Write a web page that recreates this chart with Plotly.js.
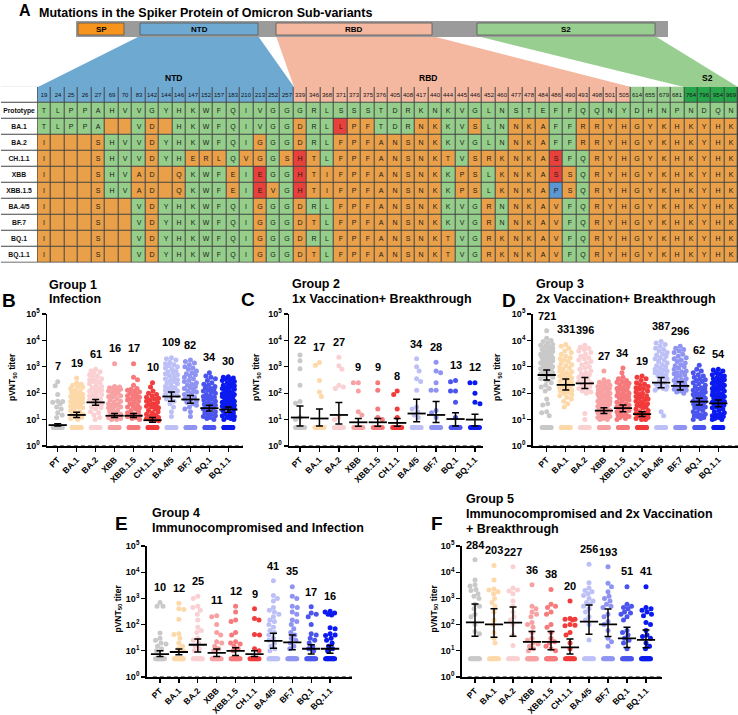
<!DOCTYPE html>
<html><head><meta charset="utf-8">
<script src="https://cdn.plot.ly/plotly-3.0.1.min.js"></script>
<style>html,body{margin:0;padding:0;background:#fff}#chart{width:738px;height:715px}</style>
</head><body><div id="chart"></div>
<script>
// ================= DATA =================
const variants = ["PT","BA.1","BA.2","XBB","XBB.1.5","CH.1.1","BA.4/5","BF.7","BQ.1","BQ.1.1"];

// Panel A: spike mutation table
const mutPositions = [19,24,25,26,27,69,70,83,142,144,146,147,152,157,183,210,213,252,257,
  339,346,368,371,373,375,376,405,408,417,440,444,445,446,452,460,477,478,484,486,490,493,498,501,505,
  614,655,679,681,764,796,954,969];
const tableRows = ["Prototype","BA.1","BA.2","CH.1.1","XBB","XBB.1.5","BA.4/5","BF.7","BQ.1","BQ.1.1"];
const rowSeqs = [
  "TLPPAHVVGYHKWFQIVGG" + "GRLSSSTDRKNKVGLNSTEFFQQNY" + "DHNPNDQN",
  "TLPPA--VD-HKWFQIVGG" + "DRLLPFTDRNKKVSLNNKAFFRRYH" + "GYKHKYHK",
  "I---SHVVDYHKWFQIGGG" + "DRLFPFANSNKKVGLNNKAFFRRYH" + "GYKHKYHK",
  "I---SHVVDYHERLQVGGS" + "HTLFPFANSNKTVSRKNKASFQRYH" + "GYKHKYHK",
  "I---SHVAD-QKWFEIEGG" + "HTIFPFANSNKKPSLKNKASSQRYH" + "GYKHKYHK",
  "I---SHVAD-QKWFEIEVG" + "HTIFPFANSNKKPSLKNKAPSQRYH" + "GYKHKYHK",
  "I---S--VDYHKWFQIGGG" + "DRLFPFANSNKKVGRNNKAVFQRYH" + "GYKHKYHK",
  "I---S--VDYHKWFQIGGG" + "DTLFPFANSNKKVGRNNKAVFQRYH" + "GYKHKYHK",
  "I---S--VDYHKWFQIGGG" + "DRLFPFANSNKTVGRKNKAVFQRYH" + "GYKHKYHK",
  "I---S--VDYHKWFQIGGG" + "DTLFPFANSNKTVGRKNKAVFQRYH" + "GYKHKYHK"
];
const specialCells = [["BA.1",371,"red"],["CH.1.1",339,"red"],["CH.1.1",486,"red"],
  ["XBB",213,"red"],["XBB",339,"red"],["XBB",486,"red"],
  ["XBB.1.5",213,"red"],["XBB.1.5",339,"red"],["XBB.1.5",486,"blue"]];

// Neutralization titers (values above detection limit), counts below limit (plotted at 5)
const lodValue = 5, lodLine = 10;

// Group 1: Infection
const g1Titers = [
  [270,190,90,50,48,45,40,30,25,18,15,12],
  [380,250,220,200,180,170,150,130,120,110,100,90,85,80,75,70,65,60,55,50,48,45,42,40,38,35,32,30,28,25,22,20,18,16,15,14,13,12,11,10],
  [800,700,650,600,500,450,400,350,320,300,280,250,230,200,180,160,150,140,130,120,110,100,90,80,75,70,60,55,50,45,40,35,30,28,25,20,18,15,12,10],
  [1300,180,170,160,150,150,140,130,120,110,100,90,80,75,70,60,55,50,45,40,38,35,32,30,28,25,22,20,18,16,15,14,13,12,11,10,10],
  [1300,400,320,200,150,140,130,120,110,100,90,85,80,70,65,60,55,50,45,40,35,32,30,28,25,22,20,18,16,15,14,13,12,11,10],
  [250,170,120,100,90,80,70,65,60,55,50,45,40,38,35,32,30,28,25,22,20,18,16,15,14,13,12,11,10,10,9],
  [2200,2000,1800,1500,1300,1200,1100,1000,900,800,700,650,600,550,500,450,400,350,320,300,280,250,230,200,180,160,150,140,130,120,110,100,90,80,70,60,50,40,30,20,13],
  [1800,1600,1400,1200,1000,900,800,700,600,550,500,450,400,350,300,280,250,220,200,180,160,150,140,120,110,100,90,80,70,60,55,50,45,40,35,30,25,20,13],
  [600,450,400,350,300,250,220,200,180,160,150,140,130,120,110,100,90,80,75,70,65,60,55,50,45,40,38,35,32,30,28,25,22,20,18,16,15,14,13,12,11,10],
  [420,400,380,350,320,300,280,250,230,200,190,180,170,160,150,140,130,120,110,100,95,90,85,80,75,70,65,60,55,50,48,45,42,40,38,35,32,30,28,25,22,20,18,16,15,14,13,12,11,10,10]
];
const g1BelowLod = [30,25,15,25,25,30,15,15,25,30];
const g1Gmt = [6.2,15,45,14,14,9.5,75,58,27,24];
const g1Lo  = [5.7,12,35,12,12,8,50,42,21,19];
const g1Hi  = [6.9,19,58,17,17,12,112,82,35,30];
const g1Labels = [7,19,61,16,17,10,109,82,34,30];

// Group 2: 1x Vaccination + Breakthrough
const g2Titers = [
  [2800,1700,850,200,48,42,12,10],
  [1450,1150,300,110,75],
  [2300,1100,800,200,170,150,12,10],
  [250,250,120,20,15],
  [250,130,25,12,10],
  [120,90,25,12],
  [2000,1000,700,350,280,130,30,25,20,15,12],
  [1500,700,600,250,130,130,22,18,12],
  [300,270,120,120,45,12],
  [250,250,100,45,40]
];
const g2BelowLod = [8,9,10,10,10,10,14,12,8,8];
const g2Gmt = [12,11,15,7.9,7.9,7.5,17,15,10.5,10];
const g2Lo  = [5.7,5.7,6.8,5.6,5.6,5.6,8.3,7.7,5.7,5.7];
const g2Hi  = [33,25,44,11,11,11,59,48,18,16];
const g2Labels = [22,17,27,9,9,8,34,28,13,12];

// Group 3: 2x Vaccination + Breakthrough
const g3Titers = [
  [23000,12000,10000,9000,8000,7000,6500,6000,5500,5000,4500,4200,4000,3800,3500,3200,3000,2800,2600,2500,2400,2200,2000,1900,1800,1700,1600,1500,1400,1300,1200,1100,1000,950,900,850,800,700,650,600,550,500,450,400,350,300,250,200,170,150,120,60,40,36,20,18,14],
  [7000,6000,5000,4000,3500,3000,2500,2200,2000,1800,1600,1400,1200,1100,1000,900,800,700,650,600,550,500,450,400,380,350,320,300,280,250,230,200,180,160,150,140,130,120,110,100,90,80,70,60,50,40,30],
  [6500,5500,5000,4500,4000,3500,3000,2500,2200,2000,1800,1600,1400,1200,1000,900,800,700,600,550,500,450,400,350,300,280,250,220,200,180,160,150,140,120,110,100,17,10],
  [700,320,280,260,240,220,200,180,170,160,150,140,130,120,110,100,95,90,85,80,75,70,65,60,55,50,48,45,42,40,38,35,32,30,28,26,24,22,20,19,18,17,16,15,14,13,12,11,10,10],
  [900,600,400,350,300,280,260,240,220,200,180,160,150,140,130,120,110,100,90,85,80,75,70,65,60,55,50,45,40,38,35,32,30,28,26,24,22,20,18,16,15,14,13,12,11,10],
  [450,400,350,300,250,220,200,180,160,150,140,120,110,100,90,80,75,70,65,60,55,50,45,40,38,35,32,30,28,25,22,20,18,17,16,15,14,13,12,11,10,10],
  [9000,8000,7000,6000,5000,4500,4000,3500,3000,2800,2500,2200,2000,1800,1600,1400,1200,1100,1000,900,800,750,700,650,600,550,500,450,400,350,300,250,220,200,180,160,150,140,130,20,14],
  [6000,5000,4500,4000,3500,3000,2500,2200,2000,1800,1600,1400,1200,1100,1000,900,800,700,650,600,550,500,450,400,350,320,300,280,250,220,200,180,160,150,140,130,120,110,100],
  [1150,800,700,600,500,450,400,350,320,300,280,250,230,200,180,160,150,140,130,120,110,100,95,90,85,80,75,70,65,60,55,50,48,45,42,40,38,35,32,30,28,25,22,20,18,16,15,14,13,12,11,10],
  [800,750,700,600,550,500,450,400,380,350,320,300,280,260,240,220,200,190,180,170,160,150,140,130,120,110,100,95,90,85,80,75,70,65,60,55,50,48,45,42,40,38,35,32,30,28,25,22,20,18,16,15,14,13,12,11,10,10]
];
const g3BelowLod = [15,12,10,30,28,35,12,12,25,25];
const g3Gmt = [490,205,236,22,27,16,250,188,48,41];
const g3Lo  = [316,132,152,17,20,13,162,132,36,31];
const g3Hi  = [760,345,390,28,36,20,390,270,64,55];
const g3Labels = [721,331,396,27,34,19,387,296,62,54];

// Group 4: Immunocompromised and Infection
const g4Titers = [
  [700,500,500,48,30,25,20,18,15,12,10],
  [650,400,380,160,45,42,30,20,15,12,10],
  [1200,1000,500,450,350,250,150,80,60,50,30,25,20,15,12,10],
  [220,200,100,50,40,22,20,15,12,10],
  [500,300,150,130,50,40,22,20,18,15,12,10],
  [400,170,150,42,40,12,10],
  [4700,1300,1000,800,450,350,300,250,200,150,130,100,80,60,50,40,30,25,20,15,12,10],
  [2800,1200,1000,500,450,300,250,150,130,100,70,50,40,30,25,20,15,12],
  [480,280,250,200,100,45,40,30,25,20,15,12,10],
  [320,300,280,250,230,75,70,45,40,38,30,25,20,15,12,10]
];
const g4BelowLod = [14,14,10,12,12,10,14,12,12,12];
const g4Gmt = [7.5,9,17,8.3,10,7.5,24,21,12,12];
const g4Lo  = [6,7,9,6,6.6,6,12.4,11,7.5,8];
const g4Hi  = [10,11.6,28,11.6,13,10,47,40,17,16];
const g4Labels = [10,12,25,11,12,9,41,35,17,16];

// Group 5: Immunocompromised and 2x Vaccination + Breakthrough
const g5Titers = [
  [30000,5000,3300,3000,2200,2000,1500,1200,1000,600,500,400,250,200,100,55,45],
  [18000,5000,2300,2100,1800,1500,1000,700,500,300,150,100,50,30,20],
  [16000,2500,2100,1900,1500,800,500,300,200,150,100,40,16],
  [3300,500,400,300,250,200,120,100,80,50,30,25,20,18,15,12,10],
  [2200,600,500,450,300,250,100,80,50,30,22,20,15,12,10],
  [800,170,160,160,150,100,95,90,50,40,20,12],
  [20000,4000,2500,2000,1800,1500,1300,1000,800,700,600,500,400,300,200,150,100,26],
  [16000,3800,2800,1800,1200,1000,800,600,500,450,250,200,130,100,60,30,22,15],
  [2800,600,500,450,400,300,280,250,200,150,60,50,40,30,25,20,12],
  [2800,450,400,350,300,250,220,120,100,60,40,35,30,20,15,12]
];
const g5BelowLod = [10,9,9,18,18,10,9,10,14,14];
const g5Gmt = [122,102,118,22,22,13.5,130,102,30,26];
const g5Lo  = [36,33,36,11.4,11,7.5,43,35,13.5,13];
const g5Hi  = [610,400,470,54,54,28,560,395,79,62];
const g5Labels = [284,203,227,36,38,20,256,193,51,41];

// ================= STYLE / LAYOUT =================
const FONT = "Liberation Sans, Arial, Helvetica, sans-serif";
const W = 738, H = 715;
const px = x => x / W, py = y => 1 - y / H;
const variantColors = ["#C9C9C9","#FDD8A8","#FAD0D2","#F8A1A3","#F67A7C","#F23B3B","#BCC0F6","#8F94F2","#4B55EE","#0B1AF0"];
const cellPalette = ["#ffffff","#95CE8B","#E9A049","#E8413B","#5A97D3","#6EA9D2","#F4B8A1","#98CF90","#27A54B","#444444"];
const csc = [];
cellPalette.forEach((c,k)=>{ csc.push([k/10,c]); csc.push([(k+1)/10,c]); });
const headerCode = p => p < 300 ? 5 : p < 600 ? 6 : p < 700 ? 7 : 8;

const traces = [];
const nCols = mutPositions.length;
const xEdges = Array.from({length: nCols + 1}, (_, i) => i);
const hmBase = {type:'heatmap', xaxis:'x', yaxis:'y', colorscale:csc, zmin:-0.5, zmax:9.5,
  showscale:false, hoverinfo:'skip', xgap:1, ygap:1};
// border background
traces.push(Object.assign({}, hmBase, {x:[-2.72, nCols], y:[0, 11], z:[[9]], xgap:0, ygap:0}));
// row label column
traces.push(Object.assign({}, hmBase, {x:[-2.72, 0], y:Array.from({length:12},(_,i)=>i),
  z:Array.from({length:11},()=>[0]), text:[[" "]].concat(tableRows.map(r=>[r])),
  texttemplate:"%{text}", textfont:{family:FONT, size:6.8, color:'#111', weight:700}}));
// header row
traces.push(Object.assign({}, hmBase, {x:xEdges, y:[0,1], z:[mutPositions.map(headerCode)],
  text:[mutPositions.map(String)], texttemplate:"%{text}", textfont:{family:FONT, size:6, color:'#111'}}));
// body
const proto = rowSeqs[0];
const bodyZ = [], bodyT = [];
rowSeqs.forEach((seq, r) => {
  const zr = [], tr = [];
  for (let c = 0; c < nCols; c++) {
    const ch = seq[c];
    let code = (ch === proto[c]) ? 1 : 2;
    specialCells.forEach(s => { if (s[0] === tableRows[r] && s[1] === mutPositions[c]) code = s[2] === 'red' ? 3 : 4; });
    zr.push(code); tr.push(ch === '-' ? ' ' : ch);
  }
  bodyZ.push(zr); bodyT.push(tr);
});
traces.push(Object.assign({}, hmBase, {x:xEdges, y:Array.from({length:11},(_,i)=>i+1), z:bodyZ,
  text:bodyT, texttemplate:"%{text}", textfont:{family:FONT, size:7, color:'#1a1a1a'}}));

const layout = {
  width:W, height:H, margin:{l:0,r:0,t:0,b:0}, paper_bgcolor:'#fff', plot_bgcolor:'rgba(0,0,0,0)',
  showlegend:false, font:{family:FONT, color:'#000'},
  xaxis:{domain:[px(1),1], range:[-2.72, nCols], visible:false, fixedrange:true},
  yaxis:{domain:[py(262.7), py(86.7)], range:[11, 0], visible:false, fixedrange:true},
  shapes:[], annotations:[]
};

// domain bar + trapezoids
const path = pts => 'M' + pts.map(p => px(p[0]) + ',' + py(p[1])).join(' L') + ' Z';
layout.shapes.push(
  {type:'path', xref:'paper', yref:'paper', path:path([[140,36],[258,36],[294,87],[38,87]]), fillcolor:'#6EA9D2', line:{width:0}},
  {type:'path', xref:'paper', yref:'paper', path:path([[276,36],[432,36],[631,87],[294,87]]), fillcolor:'#F4B8A1', line:{width:0}},
  {type:'path', xref:'paper', yref:'paper', path:path([[477,36],[655,36],[738,87],[684,87]]), fillcolor:'#98CF90', line:{width:0}},
  {type:'rect', xref:'paper', yref:'paper', x0:px(76), x1:px(668), y0:py(37), y1:py(21), fillcolor:'#9B9B9B', line:{width:0}},
  {type:'rect', xref:'paper', yref:'paper', x0:px(78), x1:px(124), y0:py(35), y1:py(23), fillcolor:'#F7941D', line:{width:0.8,color:'#555'}},
  {type:'rect', xref:'paper', yref:'paper', x0:px(140), x1:px(258), y0:py(35), y1:py(23), fillcolor:'#6EA9D2', line:{width:0.8,color:'#555'}},
  {type:'rect', xref:'paper', yref:'paper', x0:px(276), x1:px(432), y0:py(35), y1:py(23), fillcolor:'#F4B8A1', line:{width:0.8,color:'#555'}},
  {type:'rect', xref:'paper', yref:'paper', x0:px(477), x1:px(655), y0:py(35), y1:py(23), fillcolor:'#98CF90', line:{width:0.8,color:'#555'}}
);
const txt = (x, y, text, size, opts) => Object.assign({xref:'paper', yref:'paper', x:px(x), y:py(y), text,
  showarrow:false, xanchor:'center', yanchor:'middle', font:{family:FONT, size, color:'#000', weight:700}}, opts || {});
layout.annotations.push(
  txt(25, 11, 'A', 16),
  txt(37, 13, 'Mutations in the Spiker Protein of Omicron Sub-variants', 12.5, {xanchor:'left'}),
  txt(101, 29, 'SP', 8), txt(199, 29, 'NTD', 8), txt(354, 29, 'RBD', 8), txt(566, 29, 'S2', 8),
  txt(173, 78, 'NTD', 8.5), txt(428, 78, 'RBD', 8.5), txt(707, 78, 'S2', 8.5)
);

// panel titles
layout.annotations.push(
  txt(9, 300, 'B', 19), txt(47, 285, 'Group 1', 12.5, {xanchor:'left'}), txt(47, 299, 'Infection', 12.5, {xanchor:'left'}),
  txt(248, 299, 'C', 19), txt(290, 284, 'Group 2', 12.5, {xanchor:'left'}), txt(290, 299, '1x Vaccination+ Breakthrough', 12.5, {xanchor:'left'}),
  txt(509, 300, 'D', 19), txt(534, 284, 'Group 3', 12.5, {xanchor:'left'}), txt(534, 299, '2x Vaccination+ Breakthrough', 12.5, {xanchor:'left'}),
  txt(121, 523, 'E', 19), txt(150, 513, 'Group 4', 12.5, {xanchor:'left'}), txt(150, 528, 'Immunocompromised and Infection', 12.5, {xanchor:'left'}),
  txt(437, 523, 'F', 19), txt(464, 499, 'Group 5', 12.5, {xanchor:'left'}), txt(464, 514, 'Immunocompromised and 2x Vaccination', 12.5, {xanchor:'left'}), txt(464, 529, '+ Breakthrough', 12.5, {xanchor:'left'})
);

// beeswarm offsets (px)
function swarm(vals, sy, maxHalf, d) {
  const placed = [], out = [];
  vals.forEach((v, idx) => {
    const y = Math.log10(v) * sy;
    let best = 0, bestScore = -1, done = false;
    for (let k = 0; k <= maxHalf * 2 && !done; k++) {
      const sgn = idx % 2 ? -1 : 1;
      const cands = k === 0 ? [0] : [sgn * k * 0.5, -sgn * k * 0.5];
      for (const off of cands) {
        let m = Infinity;
        for (const p of placed) { const dd = Math.hypot(p[0] - off, p[1] - y); if (dd < m) m = dd; }
        if (m >= d) { best = off; done = true; break; }
        if (m > bestScore) { bestScore = m; best = off; }
      }
    }
    placed.push([best, y]); out.push(best);
  });
  return out;
}

const panels = [
  {t:g1Titers, lod:g1BelowLod, gm:g1Gmt, lo:g1Lo, hi:g1Hi, lab:g1Labels, x0:47, x1:243, c0:57.7, s:18.96, top:314, bot:446, tx:13},
  {t:g2Titers, lod:g2BelowLod, gm:g2Gmt, lo:g2Lo, hi:g2Hi, lab:g2Labels, x0:289, x1:483, c0:300, s:19.44, top:314, bot:446, tx:257},
  {t:g3Titers, lod:g3BelowLod, gm:g3Gmt, lo:g3Lo, hi:g3Hi, lab:g3Labels, x0:532.7, x1:738, c0:546.7, s:19.07, top:314, bot:446, tx:498},
  {t:g4Titers, lod:g4BelowLod, gm:g4Gmt, lo:g4Lo, hi:g4Hi, lab:g4Labels, x0:146.7, x1:352, c0:160, s:18.9, top:546, bot:677, tx:118},
  {t:g5Titers, lod:g5BelowLod, gm:g5Gmt, lo:g5Lo, hi:g5Hi, lab:g5Labels, x0:461.7, x1:662, c0:475, s:19.0, top:546, bot:677, tx:434}
];

panels.forEach((P, k) => {
  const n = k + 2, xa = 'x' + n, ya = 'y' + n;
  const sy = (P.bot - P.top) / 5;
  const xs = [], ys = [], cs = [];
  P.t.forEach((arr, i) => {
    const nl = P.lod[i];
    for (let j = 0; j < nl; j++) {
      const off = nl > 1 ? -4.5 + 9 * j / (nl - 1) : 0;
      xs.push(i + off / P.s); ys.push(lodValue); cs.push(variantColors[i]);
    }
    const vals = arr.slice().sort((a, b) => b - a);
    const offs = swarm(vals, sy, 6, 4.7);
    vals.forEach((v, j) => { xs.push(i + offs[j] / P.s); ys.push(v); cs.push(variantColors[i]); });
    // count label above the highest point (converted to paper space so it is never clipped)
    const top = Math.max.apply(null, arr);
    const ly = P.bot - (Math.log10(top) + 0.58) * sy;
    layout.annotations.push(txt(P.c0 + i * P.s, ly, String(P.lab[i]), 11));
  });
  traces.push({type:'scatter', mode:'markers', x:xs, y:ys, xaxis:xa, yaxis:ya, hoverinfo:'skip', cliponaxis:false,
    marker:{size:5, color:cs, line:{width:0}}});
  traces.push({type:'scatter', mode:'markers', x:variants.map((_, i) => i), y:P.gm, xaxis:xa, yaxis:ya, hoverinfo:'skip',
    marker:{symbol:'line-ew', size:13, color:'#000', line:{width:1.8, color:'#000'}},
    error_y:{type:'data', symmetric:false, array:P.gm.map((g, i) => P.hi[i] - g), arrayminus:P.gm.map((g, i) => g - P.lo[i]),
      width:3.5, thickness:1.5, color:'#000'}});
  const r0 = (P.x0 - P.c0) / P.s, r1 = (P.x1 - P.c0) / P.s;
  layout['xaxis' + n] = {domain:[px(P.x0), px(P.x1)], range:[r0, r1], anchor:ya, tickmode:'array',
    tickvals:variants.map((_, i) => i), ticktext:variants, tickangle:-45, ticks:'outside', ticklen:4, tickwidth:1.3,
    tickcolor:'#000', showline:true, linewidth:1.5, linecolor:'#000', showgrid:false, zeroline:false, fixedrange:true,
    tickfont:{family:FONT, size:8.5, color:'#000', weight:700}};
  layout['yaxis' + n] = {domain:[py(P.bot), py(P.top)], type:'log', range:[0, 5], anchor:xa, tickmode:'array',
    tickvals:[1,10,100,1000,10000,100000], ticktext:[0,1,2,3,4,5].map(e => '10<sup>' + e + '</sup>'),
    ticks:'outside', ticklen:4, tickwidth:1.3, tickcolor:'#000', showline:true, linewidth:1.5, linecolor:'#000',
    showgrid:false, zeroline:false, fixedrange:true, tickfont:{family:FONT, size:9, color:'#000', weight:700}};
  layout.annotations.push(txt(P.tx, (P.top + P.bot) / 2 - 3, 'pVNT<sub>50</sub> titer', 8.5, {textangle:-90}));
  layout.shapes.push({type:'line', xref:xa + ' domain', yref:ya, x0:0.03, x1:1, y0:Math.log10(lodLine), y1:Math.log10(lodLine),
    line:{color:'#000', width:1.2, dash:'4px,3px'}});
});

Plotly.newPlot('chart', traces, layout, {staticPlot:true, displayModeBar:false});
</script>
</body></html>
